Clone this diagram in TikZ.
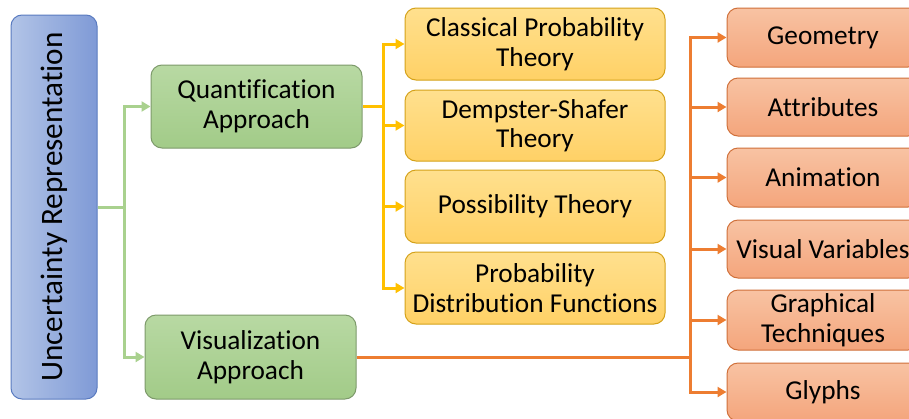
\documentclass[tikz,border=0pt]{standalone}
\usepackage{fontspec}
\setmainfont{Carlito}[Ligatures=NoCommon]
\usetikzlibrary{arrows.meta}
\definecolor{bluebd}{HTML}{5A7BC0}
\definecolor{bluel}{HTML}{B2C4E7}
\definecolor{bluer}{HTML}{7F9AD6}
\definecolor{greenbd}{HTML}{7D9A6B}
\definecolor{greent}{HTML}{B8D9A3}
\definecolor{greenb}{HTML}{A2CB88}
\definecolor{greenln}{HTML}{A9D18E}
\definecolor{yellowbd}{HTML}{D4A21A}
\definecolor{yellowt}{HTML}{FFE08E}
\definecolor{yellowb}{HTML}{FFD166}
\definecolor{yellowln}{HTML}{FFC000}
\definecolor{orangebd}{HTML}{D0703A}
\definecolor{oranget}{HTML}{F8C3A3}
\definecolor{orangeb}{HTML}{F4A57C}
\definecolor{orangeln}{HTML}{ED7D31}
\begin{document}
\begin{tikzpicture}[x=1pt,y=-1pt,
  box/.style={rectangle, rounded corners=11pt, line width=1pt, align=center,
    inner sep=0pt, font=\fontsize{27.3}{29.5}\selectfont, text=black},
  bluebox/.style={box, draw=bluebd, left color=bluel, right color=bluer,
    minimum width=86pt, minimum height=384pt},
  greenbox/.style={box, draw=greenbd, top color=greent, bottom color=greenb,
    minimum width=211pt, minimum height=83pt},
  yellowbox/.style={box, draw=yellowbd, top color=yellowt, bottom color=yellowb,
    minimum width=260pt, minimum height=72pt},
  orangebox/.style={box, draw=orangebd, top color=oranget, bottom color=orangeb,
    minimum width=192pt, minimum height=59pt},
  conn/.style={line width=3pt, -{Triangle[length=9pt,width=10pt]}},
  line/.style={line width=3pt}
]
\path[use as bounding box, clip] (0,0) rectangle (909,418);
\fill[white] (0,0) rectangle (909,418);

\node[bluebox] (ur) at (54,207) {};
\node[rotate=90, font=\fontsize{31.2}{33}\selectfont] (urt) at (54,207) {Uncertainty Representation};

\node[greenbox] (qa) at (256.5,106.5) {Quantification\\Approach};
\node[greenbox, minimum height=84pt] (va) at (250.5,357) {Visualization\\Approach};

\node[yellowbox] (c1) at (535,44) {Classical Probability\\Theory};
\node[yellowbox, minimum height=71pt] (c2) at (535,125.5) {Dempster-Shafer\\Theory};
\node[yellowbox, minimum height=73pt] (c3) at (535,206.5) {Possibility Theory};
\node[yellowbox] (c4) at (535,288) {Probability\\Distribution Functions};

\node[orangebox] (o1) at (823,37.5) {Geometry};
\node[orangebox, minimum height=58pt] (o2) at (823,107) {Attributes};
\node[orangebox] (o3) at (823,177.5) {Animation};
\node[orangebox, minimum height=58pt] (o4) at (823,249) {Visual Variables};
\node[orangebox, minimum height=60pt] (o5) at (823,320) {Graphical\\Techniques};
\node[orangebox, minimum height=58pt] (o6) at (823,392) {Glyphs};

% green connectors
\coordinate (gj) at (124,207);
\draw[line, greenln] (ur.east) -- (gj);
\draw[conn, greenln] (gj) |- (qa.west);
\draw[conn, greenln] (gj) |- (va.west);

% yellow connectors
\coordinate (yj) at (383,106.5);
\draw[line, yellowln] (qa.east) -- (yj);
\foreach \n in {c1,c2,c3,c4} \draw[conn, yellowln] (yj) |- (\n.west);

% orange connectors
\coordinate (oj) at (690,357);
\draw[line, orangeln] (va.east) -- (oj);
\foreach \n in {o1,o2,o3,o4,o5,o6} \draw[conn, orangeln] (oj) |- (\n.west);
\end{tikzpicture}
\end{document}
